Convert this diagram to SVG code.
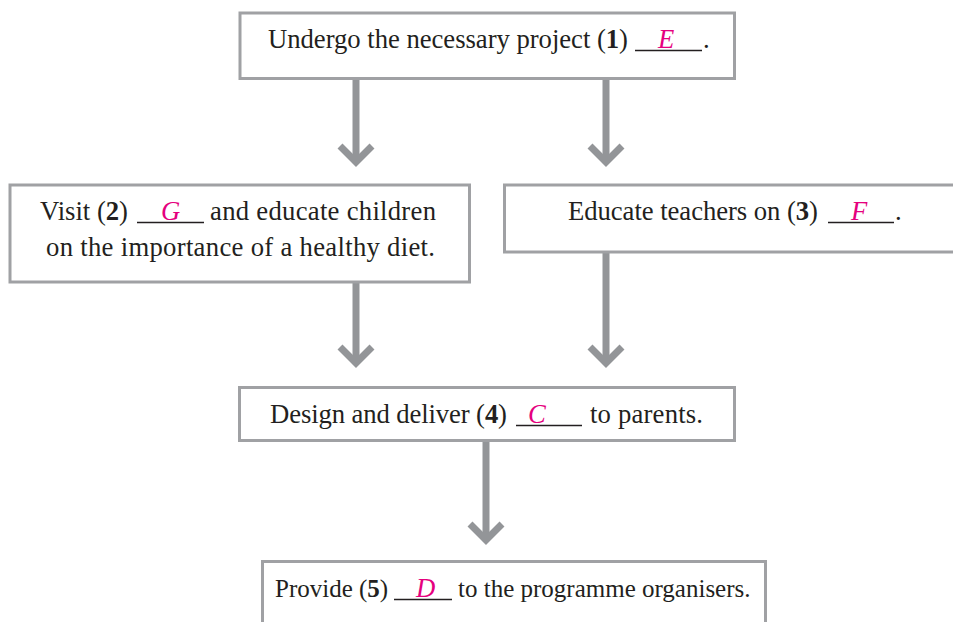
<svg xmlns="http://www.w3.org/2000/svg" width="953" height="622" viewBox="0 0 953 622">
  <style>
    .box { fill: #ffffff; stroke: #a0a1a4; stroke-width: 3; }
    .t { font-family: "Liberation Serif", "Times New Roman", serif; font-size: 26.7px; fill: #231f20; }
    .s { font-size: 25px; }
    .b { font-weight: bold; }
    .ans { font-family: "Liberation Serif", "Times New Roman", serif; font-size: 26.7px; font-style: italic; fill: #e5007e; }
    .blank { stroke: #231f20; stroke-width: 1.4; }
    .shaft { stroke: #939598; stroke-width: 7; fill: none; }
    .head { stroke: #939598; stroke-width: 7; fill: none; stroke-linejoin: miter; stroke-miterlimit: 10; }
  </style>

  <!-- connectors -->
  <g id="connectors">
    <line class="shaft" x1="356" y1="80" x2="356" y2="160"/>
    <polyline class="head" points="340,146 356,162 372,146"/>
    <line class="shaft" x1="606" y1="80" x2="606" y2="160"/>
    <polyline class="head" points="590,146 606,162 622,146"/>
    <line class="shaft" x1="356" y1="283" x2="356" y2="361"/>
    <polyline class="head" points="340,347 356,363 372,347"/>
    <line class="shaft" x1="606" y1="253" x2="606" y2="361"/>
    <polyline class="head" points="590,347 606,363 622,347"/>
    <line class="shaft" x1="486" y1="441" x2="486" y2="538"/>
    <polyline class="head" points="470,524 486,540 502,524"/>
  </g>

  <!-- step 1 -->
  <g id="step1">
    <rect class="box" x="240" y="13" width="494.5" height="65.5"/>
    <text class="t" x="268" y="48" textLength="360" lengthAdjust="spacing">Undergo the necessary project (<tspan class="b">1</tspan>)</text>
    <line class="blank" x1="635" y1="50.5" x2="702" y2="50.5"/>
    <text class="ans" x="658" y="48">E</text>
    <text class="t" x="703" y="48">.</text>
  </g>

  <!-- step 2 -->
  <g id="step2">
    <rect class="box" x="10" y="185" width="459.5" height="97"/>
    <text class="t" x="40" y="220" textLength="88" lengthAdjust="spacing">Visit (<tspan class="b">2</tspan>)</text>
    <line class="blank" x1="137" y1="222.5" x2="204" y2="222.5"/>
    <text class="ans" x="161" y="220">G</text>
    <text class="t" x="210" y="220" textLength="226" lengthAdjust="spacing">and educate children</text>
    <text class="t" x="46" y="256" textLength="389" lengthAdjust="spacing">on the importance of a healthy diet.</text>
  </g>

  <!-- step 3 -->
  <g id="step3">
    <rect class="box" x="504.5" y="185" width="460" height="67"/>
    <text class="t" x="568" y="220" textLength="250" lengthAdjust="spacing">Educate teachers on (<tspan class="b">3</tspan>)</text>
    <line class="blank" x1="828" y1="222.5" x2="894" y2="222.5"/>
    <text class="ans" x="851" y="220">F</text>
    <text class="t" x="895" y="220">.</text>
  </g>

  <!-- step 4 -->
  <g id="step4">
    <rect class="box" x="239.5" y="387.5" width="495" height="53"/>
    <text class="t" x="270" y="423" textLength="237" lengthAdjust="spacing">Design and deliver (<tspan class="b">4</tspan>)</text>
    <line class="blank" x1="516" y1="425.5" x2="582" y2="425.5"/>
    <text class="ans" x="528" y="423">C</text>
    <text class="t" x="590" y="423" textLength="113" lengthAdjust="spacing">to parents.</text>
  </g>

  <!-- step 5 -->
  <g id="step5">
    <rect class="box" x="262.5" y="561.5" width="503" height="80"/>
    <text class="t s" x="275" y="597">Provide (<tspan class="b">5</tspan>)</text>
    <line class="blank" x1="394" y1="599.5" x2="452" y2="599.5"/>
    <text class="ans" x="416" y="597">D</text>
    <text class="t s" x="458" y="597">to the programme organisers.</text>
  </g>
</svg>
